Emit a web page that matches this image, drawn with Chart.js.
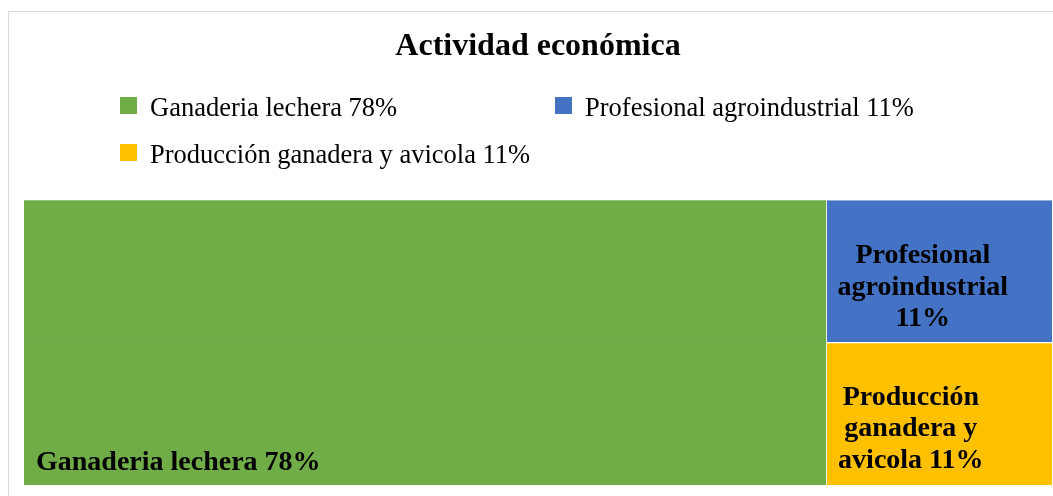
<!DOCTYPE html>
<html lang="es">
<head>
  <meta charset="UTF-8">
  <title>Actividad económica</title>
  <script src="https://cdn.jsdelivr.net/npm/chart.js"></script>
  <style>
    html, body { margin: 0; padding: 0; overflow: hidden; background: #fff; }
    .marco { position: absolute; left: 8px; top: 11px; width: 1060px; height: 490px; border: 1px solid #d9d9d9; }
    .chart-container { position: relative; width: 1060px; height: 484px; }
  </style>
</head>
<body>
  <div class="marco">
    <div class="chart-container">
      <canvas id="treemapChart"></canvas>
    </div>
  </div>

  <script>
    // datos
    const categorias = ['Ganaderia lechera', 'Profesional agroindustrial', 'Producción ganadera y avicola'];
    const porcentajes = [78, 11, 11];
    const colores = ['#70AD47', '#4472C4', '#FFC000'];
    // texto dentro de cada bloque
    const lineasEtiqueta = [
      ['Ganaderia lechera 78%'],
      ['Profesional', 'agroindustrial', '11%'],
      ['Producción', 'ganadera y', 'avicola 11%']
    ];
    const filas = ['arriba', 'abajo'];

    // bloque grande a la izquierda, los otros dos apilados en la columna derecha
    const finIzq = porcentajes[0];
    const finDer = porcentajes[0] + porcentajes[1] + porcentajes[2];

    const datasets = [
      {
        label: categorias[0],
        data: [[0, finIzq], [0, finIzq]],
        backgroundColor: colores[0],
        borderWidth: 0
      },
      {
        label: categorias[1],
        data: [[finIzq, finDer], null],
        backgroundColor: colores[1],
        borderColor: '#ffffff',
        borderWidth: { left: 1.5, bottom: 1, top: 0, right: 0 }
      },
      {
        label: categorias[2],
        data: [null, [finIzq, finDer]],
        backgroundColor: colores[2],
        borderColor: '#ffffff',
        borderWidth: { left: 1.5, top: 1, bottom: 0, right: 0 }
      }
    ].map(ds => Object.assign(ds, {
      grouped: false,
      barPercentage: 1,
      categoryPercentage: 1,
      borderSkipped: false
    }));

    // leyenda en dos columnas
    const leyendaPlugin = {
      id: 'leyendaCuadros',
      afterDraw(chart) {
        const ctx = chart.ctx;
        const items = [
          { i: 0, x: 111, y: 104 },
          { i: 1, x: 546, y: 104 },
          { i: 2, x: 111, y: 151 }
        ];
        ctx.save();
        ctx.font = '26.5px "Liberation Serif"';
        ctx.textBaseline = 'alphabetic';
        ctx.textAlign = 'left';
        items.forEach(it => {
          ctx.fillStyle = colores[it.i];
          ctx.fillRect(it.x, it.y - 19, 17, 17);
          ctx.fillStyle = '#000';
          ctx.fillText(`${categorias[it.i]} ${porcentajes[it.i]}%`, it.x + 30, it.y);
        });
        ctx.restore();
      }
    };

    // etiquetas dentro de los rectángulos
    const etiquetasPlugin = {
      id: 'etiquetasBloques',
      afterDatasetsDraw(chart) {
        const ctx = chart.ctx;
        ctx.save();
        ctx.fillStyle = '#000';
        ctx.font = 'bold 28px "Liberation Serif"';
        ctx.textBaseline = 'alphabetic';

        const verde = chart.getDatasetMeta(0).data[1].getProps(['x', 'y', 'base', 'height'], true);
        ctx.textAlign = 'left';
        ctx.fillText(lineasEtiqueta[0][0], verde.base + 12, verde.y + verde.height / 2 - 15);

        const azul = chart.getDatasetMeta(1).data[0].getProps(['x', 'y', 'base', 'height'], true);
        ctx.textAlign = 'center';
        lineasEtiqueta[1].forEach((t, k) => {
          ctx.fillText(t, azul.base + 97, azul.y - azul.height / 2 + 63 + k * 31.5);
        });

        const amarillo = chart.getDatasetMeta(2).data[1].getProps(['x', 'y', 'base', 'height'], true);
        lineasEtiqueta[2].forEach((t, k) => {
          ctx.fillText(t, amarillo.base + 85, amarillo.y - amarillo.height / 2 + 62 + k * 31.5);
        });
        ctx.restore();
      }
    };

    const ctx = document.getElementById('treemapChart').getContext('2d');
    new Chart(ctx, {
      type: 'bar',
      data: { labels: filas, datasets: datasets },
      options: {
        indexAxis: 'y',
        responsive: true,
        maintainAspectRatio: false,
        animation: false,
        layout: { padding: { left: 15, right: 17, top: 0, bottom: 11 } },
        plugins: {
          title: {
            display: true,
            text: 'Actividad económica',
            color: '#000',
            font: { family: '"Liberation Serif"', size: 32, weight: 'bold' },
            padding: { top: 16, bottom: 133.8 }
          },
          legend: { display: false },
          tooltip: { enabled: false }
        },
        scales: {
          x: { type: 'linear', display: false, min: 0, max: finDer },
          y: { display: false }
        }
      },
      plugins: [etiquetasPlugin, leyendaPlugin]
    });
  </script>
</body>
</html>
